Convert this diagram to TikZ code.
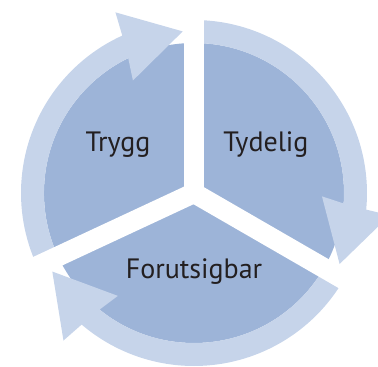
\documentclass[tikz,border=0pt]{standalone}
\usepackage{fontspec}
\setmainfont{PT Sans}
\usepackage{tikz}
\definecolor{sectorblue}{RGB}{157,180,216}
\definecolor{ringblue}{RGB}{198,212,234}
\definecolor{textdark}{RGB}{35,31,32}
% #1 start angle, #2 tip angle (clockwise), #3 colour
\newcommand{\cyclearrow}[3]{%
  \pgfmathsetmacro{\outb}{#2+19.5}%
  \pgfmathsetmacro{\outn}{#2+20.5}%
  \pgfmathsetmacro{\innn}{#2+22}%
  \pgfmathsetmacro{\innb}{#2+24.5}%
  \fill[#3] (#1:173) arc[start angle=#1, end angle=\outn, radius=173]
    -- (\outb:197) -- (#2:162) -- (\innb:128) -- (\innn:150)
    arc[start angle=\innn, end angle=#1, radius=150] -- cycle;%
}
\tikzset{
  phase/.style={font=\fontsize{28}{32}\selectfont, text=textdark,
    anchor=base, inner sep=0pt},
  gap/.style={white, line width=20pt}
}

\begin{document}
\begin{tikzpicture}[x=1pt,y=1pt]

  \clip (-194,-174) rectangle (184,193);
  \useasboundingbox (-194,-174) rectangle (184,193);

  % inner disc
  \fill[sectorblue] (0,0) circle[radius=150];

  % outer ring, three arrows
  \cyclearrow{205}{94}{ringblue}
  \cyclearrow{90}{-26}{ringblue}
  \cyclearrow{-30}{-151}{ringblue}

  % cuts between the sectors
  \draw[gap] (0,0) -- (90:230);
  \draw[gap] (0,0) -- (205:230);
  \draw[gap] (0,0) -- (330:230);

  \node[phase] (trygg) at (-76,41) {Trygg};
  \node[phase] (tydelig) at (72,41) {Tydelig};
  \node[phase] (forutsigbar) at (0,-85) {Forutsigbar};

\end{tikzpicture}
\end{document}
